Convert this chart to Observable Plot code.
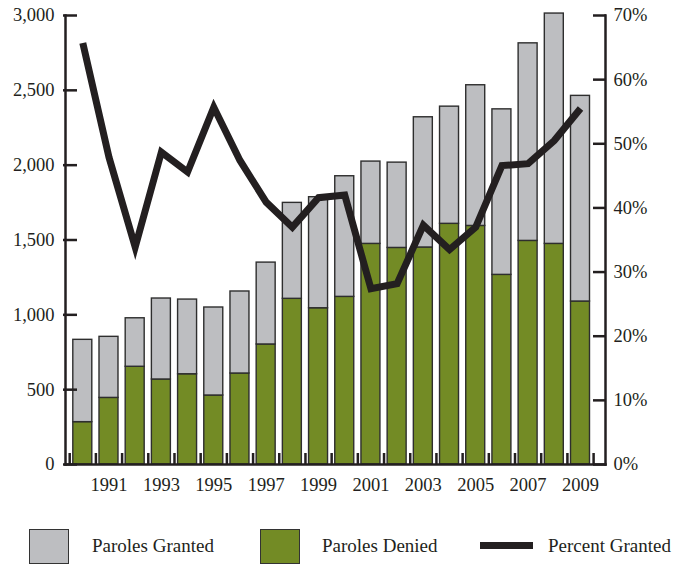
<!DOCTYPE html>
<html>
<head>
<meta charset="utf-8">
<script src="https://cdn.jsdelivr.net/npm/d3@7"></script>
<script src="https://cdn.jsdelivr.net/npm/@observablehq/plot@0.6"></script>
<style>
  html, body { margin: 0; padding: 0; background: #fff; }
  #wrap { width: 686px; position: relative; font-family: "Liberation Serif", "DejaVu Serif", serif; color: #231f20; }
  #legend { position: relative; width: 686px; height: 57px; font-size: 19px; }
  .sw { position: absolute; top: 19px; width: 40px; height: 35px; box-sizing: border-box; border: 1.5px solid #333; }
  .lab { position: absolute; top: 25px; line-height: 22px; white-space: nowrap; }
  .ln { position: absolute; top: 32px; height: 7px; background: #231f20; }
</style>
</head>
<body>
<div id="wrap">
  <div id="chart"></div>
  <div id="legend">
    <div class="sw" style="left:29px;background:#bdbec1"></div>
    <div class="lab" style="left:92px">Paroles Granted</div>
    <div class="sw" style="left:260px;background:#738b25"></div>
    <div class="lab" style="left:322px">Paroles Denied</div>
    <div class="ln" style="left:480px;width:53px"></div>
    <div class="lab" style="left:548px">Percent Granted</div>
  </div>
</div>
<script>
// ---- data ----
const years = [1990,1991,1992,1993,1994,1995,1996,1997,1998,1999,2000,2001,2002,2003,2004,2005,2006,2007,2008,2009];
const parolesDenied  = [283,445,653,568,603,461,608,802,1107,1044,1120,1474,1447,1450,1608,1594,1267,1494,1474,1089];
const parolesGranted = [550,408,324,541,499,588,548,547,641,742,806,550,570,870,783,940,1106,1320,1539,1374];
const percentGranted = [65.7,47.9,33.9,48.7,45.6,55.7,47.4,40.9,37.0,41.6,42.0,27.4,28.2,37.3,33.5,37.0,46.6,46.9,50.5,55.5];
const countTicks = [0,500,1000,1500,2000,2500,3000];
const pctTicks = [0,10,20,30,40,50,60,70];
const labeledYears = [1991,1993,1995,1997,1999,2001,2003,2005,2007,2009];

// ---- layout ----
const W = 686, H = 510;
const mT = 15, mB = H - 464, mL = 65, mR = W - 605;
const plotW = W - mL - mR, plotH = H - mT - mB;
const countMax = 3000, pctMax = 70;
const toCount = p => p * countMax / pctMax;
const ink = "#231f20";

const stacked = [];
years.forEach((y, i) => {
  stacked.push({year: y, series: "Denied", value: parolesDenied[i]});
  stacked.push({year: y, series: "Granted", value: parolesGranted[i]});
});
const lineData = years.map((y, i) => ({year: y, pct: percentGranted[i]}));

const bandRange = [69.2, 593.1];
const step = (bandRange[1] - bandRange[0]) / years.length;

const chart = Plot.plot({
  width: W, height: H,
  marginTop: mT, marginBottom: mB, marginLeft: mL, marginRight: mR,
  style: {fontFamily: '"Liberation Serif", "DejaVu Serif", serif', fontSize: "18.5px", color: ink, background: "#fff"},
  x: {type: "band", domain: years, range: bandRange, paddingInner: 0.275, paddingOuter: 0.1375, round: false},
  y: {domain: [0, countMax]},
  color: {domain: ["Denied", "Granted"], range: ["#738b25", "#bdbec1"]},
  marks: [
    Plot.barY(stacked, {x: "year", y: "value", fill: "series", stroke: "#2e2e2e", strokeWidth: 1.4, order: ["Denied", "Granted"]}),
    // bottom tiny ticks at band boundaries
    Plot.tickX(years, {x: d => d, dx: -step / 2, insetTop: plotH - 11, stroke: ink, strokeWidth: 2.5}),
    Plot.tickX([years[years.length - 1]], {x: d => d, dx: step / 2, insetTop: plotH - 11, stroke: ink, strokeWidth: 2.5}),
    // axis lines
    Plot.frame({anchor: "left", stroke: ink, strokeWidth: 2.5}),
    Plot.frame({anchor: "right", stroke: ink, strokeWidth: 2.5}),
    Plot.frame({anchor: "bottom", stroke: ink, strokeWidth: 2.5}),
    // inward ticks
    Plot.tickY(countTicks, {y: d => d, insetLeft: -2, insetRight: plotW - 12, stroke: ink, strokeWidth: 2.5}),
    Plot.tickY(pctTicks, {y: d => toCount(d), insetLeft: plotW - 12, insetRight: -1, stroke: ink, strokeWidth: 2.5}),
    // line
    Plot.line(lineData, {x: "year", y: d => toCount(d.pct), stroke: ink, strokeWidth: 7, strokeLinejoin: "miter", strokeMiterlimit: 4, strokeLinecap: "butt"}),
    // axis labels
    Plot.axisY({ticks: countTicks, tickSize: 0, tickPadding: 11, tickFormat: d3.format(","), fill: ink, label: null}),
    Plot.axisY(pctTicks.map(toCount), {anchor: "right", tickSize: 0, tickPadding: 8, tickFormat: d => Math.round(d * pctMax / countMax) + "%", fill: ink, label: null}),
    Plot.axisX({ticks: labeledYears, tickSize: 0, tickPadding: 13, fill: ink, label: null, tickFormat: d => String(d)})
  ]
});
document.getElementById("chart").appendChild(chart);
</script>
</body>
</html>
